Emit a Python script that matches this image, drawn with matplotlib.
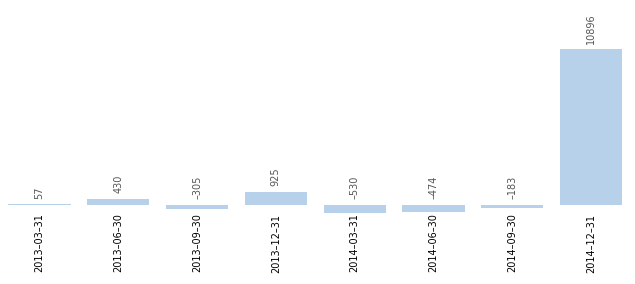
import matplotlib
matplotlib.use("Agg")
import matplotlib.pyplot as plt
import numpy as np

# quarter end dates and values
dates = ["2013-03-31", "2013-06-30", "2013-09-30", "2013-12-31",
         "2014-03-31", "2014-06-30", "2014-09-30", "2014-12-31"]
values = [57, 430, -305, 925, -530, -474, -183, 10896]

plt.rcParams['font.family'] = ['DejaVu Sans']

fig = plt.figure(figsize=(6.35, 2.84), dpi=100)
ax = fig.add_axes([0.0, 0.248, 0.993, 0.685])

x = np.arange(len(values))
ax.bar(x, values, width=0.79, color='#b7d1ea', edgecolor='none')

# value labels above bars (or above zero line for negatives)
for xi, v in zip(x, values):
    ax.annotate(str(v).replace('-', '\u2013'), xy=(xi, max(v, 0)), xytext=(0, 4),
                textcoords='offset points', rotation=90, ha='center', va='bottom',
                fontsize=7, color='#555555', annotation_clip=False)

ax.set_xlim(-0.5, len(values) - 0.5)
ax.set_ylim(-600, 13000)
ax.set_xticks(x)
ax.set_xticklabels([d.replace('-', '\u2013') for d in dates], rotation=90, fontsize=7, color='black')
ax.tick_params(axis='x', length=0, pad=0)
ax.set_yticks([])
for s in ax.spines.values():
    s.set_visible(False)

fig.savefig("out.png", dpi=100)
